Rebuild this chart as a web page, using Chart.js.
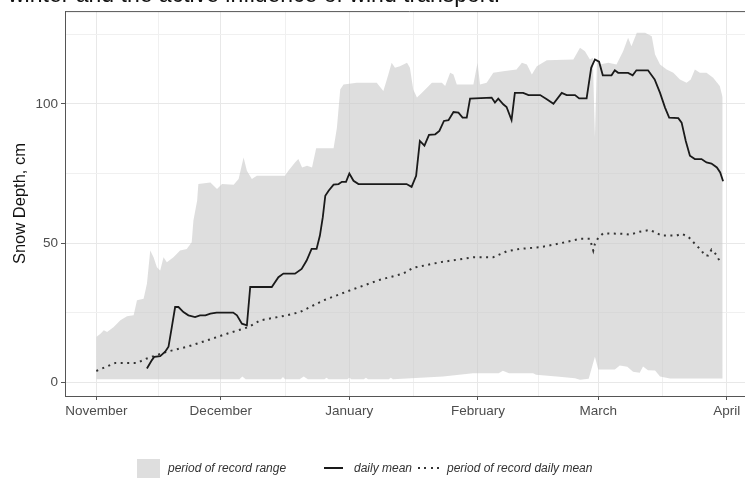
<!DOCTYPE html>
<html>
<head>
<meta charset="utf-8">
<script src="https://cdn.jsdelivr.net/npm/chart.js@4"></script>
<style>
  html, body { margin: 0; padding: 0; background: #fff; overflow: hidden; width: 745px; height: 488px; }
  #wrap { position: relative; width: 745px; height: 488px; overflow: hidden; }
  #chart { position: absolute; left: 0; top: 0; }
  #cut { position: absolute; left: 8px; top: -17px; font: 23px "Liberation Sans", Arial, sans-serif; line-height: 23px; color: #111; white-space: nowrap; }
  .lg { position: absolute; font: italic 12px "Liberation Sans", Arial, sans-serif; color: #333; white-space: nowrap; line-height: 14px; }
</style>
</head>
<body>
<div id="wrap">
  <canvas id="chart" width="754" height="488"></canvas>
  <div id="cut">winter and the active influence of wind transport.</div>
  <div style="position:absolute;left:137px;top:459px;width:23px;height:19px;background:#dedede"></div>
  <div class="lg" style="left:168px;top:461px">period of record range</div>
  <div style="position:absolute;left:324px;top:467px;width:19px;height:2px;background:#1a1a1a"></div>
  <div class="lg" style="left:354px;top:461px">daily mean</div>
  <div style="position:absolute;left:418px;top:467px;width:24px;height:2px;background:repeating-linear-gradient(90deg,#333 0 2px,transparent 2px 6.5px)"></div>
  <div class="lg" style="left:447px;top:461px">period of record daily mean</div>
</div>
<script>
// x values are days since November 1
const monthDays = [0, 30, 61, 92, 121, 152];
const monthLabels = ['November', 'December', 'January', 'February', 'March', 'April'];
const yTicks = [0, 25, 50, 75, 100, 125];
const yLabelled = [0, 50, 100];

// period of record range - top edge
const upperDays = [0, 1.0, 1.8, 2.6, 4.2, 5.8, 7.4, 9.0, 9.8, 11.4, 12.2, 13.0, 13.8, 14.6, 15.4, 16.2, 17.0, 18.6, 20.2, 21.8, 23.0, 23.4, 24.3, 24.6, 27.5, 29.1, 30.3, 33.1, 34.3, 35.5, 36.3, 37.5, 38.7, 45.5, 46.3, 47.9, 48.7, 49.6, 50.8, 52.0, 53.0, 57.2, 58.0, 58.8, 59.6, 62.8, 67.6, 69.2, 70.4, 71.2, 72.0, 73.2, 74.9, 75.6, 76.4, 77.3, 78.5, 80.9, 83.3, 84.1, 85.3, 86.1, 86.9, 90.9, 91.9, 92.5, 94.1, 95.7, 98.1, 101.3, 102.6, 103.8, 105.0, 106.2, 108.6, 115.0, 116.6, 117.8, 119.0, 119.7, 120.2, 120.7, 121.4, 123.4, 125.4, 127.0, 128.2, 129.0, 130.3, 132.3, 133.9, 134.7, 135.9, 137.5, 139.1, 140.7, 142.3, 143.3, 144.3, 145.5, 147.1, 148.7, 150.3, 151.0];
const upperValues = [16.2, 17.4, 18.6, 18.0, 19.8, 22.2, 23.7, 24.0, 29.4, 30.0, 35.4, 47.3, 44.9, 41.3, 40.1, 44.9, 43.1, 44.9, 47.3, 47.9, 50.3, 58.0, 65.2, 71.2, 71.8, 69.4, 71.2, 71.0, 73.0, 80.8, 76.0, 73.0, 74.2, 74.2, 76.0, 79.0, 80.2, 77.2, 77.8, 77.2, 84.1, 84.1, 91.5, 105.2, 107.0, 107.6, 107.6, 104.7, 110.6, 114.8, 113.0, 113.6, 114.8, 113.0, 105.2, 102.3, 104.0, 107.6, 107.6, 106.5, 111.2, 110.6, 107.0, 107.0, 114.8, 107.0, 107.6, 111.2, 111.8, 112.4, 114.8, 114.2, 110.6, 113.6, 115.7, 116.0, 120.2, 119.0, 116.0, 116.6, 88.0, 116.0, 114.2, 114.8, 114.2, 119.0, 123.8, 120.8, 125.6, 125.6, 124.4, 117.8, 114.2, 112.4, 111.2, 108.8, 107.6, 108.8, 112.4, 111.2, 111.2, 109.4, 106.5, 102.3];

// period of record range - bottom edge
const lowerDays = [0, 34.5, 35.2, 36.0, 44.5, 45.0, 45.5, 49.0, 50.0, 51.0, 55.0, 55.5, 56.0, 60.5, 61.0, 61.5, 64.5, 65.0, 65.5, 70.5, 71.0, 71.5, 83.6, 90.8, 97.0, 98.0, 99.5, 105.3, 106.0, 111.0, 115.4, 116.6, 118.7, 120.2, 121.0, 125.0, 126.2, 128.0, 129.4, 131.0, 131.8, 133.0, 134.7, 135.9, 138.3, 151.0];
const lowerValues = [1.0, 1.0, 2.0, 1.0, 1.0, 1.8, 1.0, 1.0, 2.0, 1.0, 1.0, 1.6, 1.0, 1.0, 1.6, 1.0, 1.0, 1.6, 1.0, 1.0, 1.6, 1.0, 2.0, 3.2, 3.2, 4.1, 3.2, 3.2, 2.6, 2.0, 1.4, 0.8, 1.2, 9.1, 4.5, 4.5, 6.0, 5.5, 3.7, 3.4, 5.6, 4.3, 4.2, 2.0, 1.3, 1.3];

// daily mean
const meanDays = [12.2, 13.4, 14.0, 15.4, 16.6, 17.4, 18.2, 19.0, 19.8, 21.0, 22.2, 23.8, 25.0, 26.3, 27.5, 29.0, 30.6, 33.0, 33.9, 35.1, 36.3, 37.1, 42.3, 43.9, 45.1, 47.9, 49.5, 50.7, 51.9, 53.1, 53.9, 54.6, 55.2, 56.0, 57.2, 58.4, 59.2, 60.2, 61.0, 62.0, 63.2, 74.8, 76.0, 77.1, 78.0, 79.1, 80.2, 81.7, 82.7, 83.8, 84.9, 86.1, 87.3, 88.3, 89.3, 90.1, 95.3, 96.1, 96.9, 98.1, 98.9, 100.1, 100.9, 102.9, 104.2, 107.0, 108.6, 110.2, 112.2, 113.4, 115.4, 116.4, 118.2, 119.3, 120.2, 121.2, 122.1, 124.2, 125.0, 125.8, 128.2, 129.3, 130.2, 133.0, 134.6, 135.9, 137.1, 138.1, 140.3, 141.1, 142.1, 143.1, 144.3, 145.9, 147.1, 148.3, 149.6, 150.4, 151.1];
const meanValues = [4.9, 7.9, 9.1, 9.3, 10.9, 12.7, 19.8, 27.0, 27.0, 25.2, 24.0, 23.4, 24.0, 24.0, 24.6, 25.0, 25.0, 25.0, 24.0, 21.0, 20.4, 34.2, 34.2, 37.7, 39.0, 39.0, 40.7, 43.7, 47.9, 47.9, 52.7, 59.3, 67.0, 68.8, 71.0, 71.2, 72.0, 72.0, 75.0, 72.4, 71.2, 71.2, 70.2, 74.2, 86.7, 85.0, 88.9, 89.1, 90.3, 93.9, 94.2, 97.1, 96.9, 95.1, 95.1, 101.9, 102.3, 100.5, 101.9, 99.9, 98.9, 94.2, 104.0, 104.0, 103.2, 103.2, 101.7, 100.1, 104.0, 103.2, 103.2, 102.0, 102.0, 113.0, 116.0, 115.2, 110.3, 110.3, 112.1, 111.2, 111.2, 110.3, 112.1, 112.1, 108.8, 104.0, 98.7, 95.1, 94.9, 93.3, 86.7, 81.4, 80.2, 80.2, 79.0, 78.6, 77.2, 75.4, 72.2];

// period of record daily mean
const porDays = [0, 4.6, 9.8, 12.2, 17.0, 21.9, 26.7, 31.5, 36.7, 39.5, 45.9, 49.1, 54.8, 61.2, 68.4, 74.0, 76.4, 82.9, 90.9, 95.7, 98.9, 102.1, 107.0, 111.8, 116.6, 119.0, 119.8, 120.2, 121.0, 122.2, 127.0, 128.6, 131.0, 133.5, 136.3, 139.9, 141.1, 142.7, 144.3, 145.9, 146.7, 147.5, 148.3, 149.4, 150.2];
const porValues = [4.0, 6.9, 6.9, 8.5, 10.9, 12.7, 15.0, 17.4, 19.8, 22.2, 24.0, 25.2, 29.4, 33.0, 36.8, 39.0, 41.1, 43.1, 44.9, 44.9, 47.0, 47.9, 48.5, 49.9, 51.5, 51.5, 47.3, 49.7, 51.9, 53.5, 53.3, 53.0, 54.1, 54.7, 52.7, 52.7, 53.3, 52.3, 49.7, 47.3, 45.5, 45.5, 47.6, 45.9, 43.7];

const pts = (xs, ys) => xs.map((x, i) => ({ x: x, y: ys[i] }));

const minorX = [];
for (let i = 0; i < monthDays.length - 1; i++) minorX.push((monthDays[i] + monthDays[i + 1]) / 2);

// panel border (top side, right is off-canvas)
const panelBorder = {
    id: 'panelBorder',
    afterDatasetsDraw(chart) {
        const a = chart.chartArea, ctx = chart.ctx;
        ctx.save();
        ctx.strokeStyle = '#555';
        ctx.lineWidth = 1;
        ctx.beginPath();
        ctx.moveTo(a.left, a.top + 0.5);
        ctx.lineTo(a.right, a.top + 0.5);
        ctx.stroke();
        ctx.restore();
    }
};

const chart = new Chart(document.getElementById('chart'), {
    type: 'line',
    data: {
        datasets: [{
            label: 'daily mean',
            data: pts(meanDays, meanValues),
            borderColor: '#1a1a1a',
            borderWidth: 1.8,
            pointRadius: 0,
            fill: false
        }, {
            label: 'period of record daily mean',
            data: pts(porDays, porValues),
            borderColor: '#333',
            borderWidth: 2,
            borderDash: [2, 4.5],
            pointRadius: 0,
            fill: false
        }, {
            label: 'period of record range',
            data: pts(upperDays, upperValues),
            borderWidth: 0,
            borderColor: 'rgba(0,0,0,0)',
            backgroundColor: 'rgba(200,200,200,0.6)',
            pointRadius: 0,
            fill: '+1'
        }, {
            label: 'range low',
            data: pts(lowerDays, lowerValues),
            borderWidth: 0,
            borderColor: 'rgba(0,0,0,0)',
            pointRadius: 0,
            fill: false
        }]
    },
    options: {
        responsive: false,
        animation: false,
        layout: { padding: { top: 10, bottom: 62, left: 0, right: 0 } },
        plugins: { legend: { display: false }, tooltip: { enabled: false } },
        elements: { line: { tension: 0 } },
        scales: {
            x: {
                type: 'linear',
                min: -7.55,
                max: 158.55,
                afterBuildTicks: s => { s.ticks = monthDays.concat(minorX).sort((a, b) => a - b).map(v => ({ value: v })); },
                afterFit: s => { s.height = 30; },
                grid: {
                    color: c => monthDays.includes(c.tick.value) ? '#e8e8e8' : '#f0f0f0',
                    tickColor: c => monthDays.includes(c.tick.value) ? '#555' : 'rgba(0,0,0,0)',
                    tickLength: 4
                },
                border: { display: true, color: '#555', width: 1 },
                ticks: {
                    autoSkip: false,
                    maxRotation: 0,
                    padding: 3,
                    color: '#4d4d4d',
                    font: { family: 'Liberation Sans', size: 13.5 },
                    callback: v => { const i = monthDays.indexOf(v); return i >= 0 ? monthLabels[i] : ''; }
                }
            },
            y: {
                type: 'linear',
                min: -5,
                max: 133.4,
                afterBuildTicks: s => { s.ticks = yTicks.map(v => ({ value: v })); },
                afterFit: s => { s.width = 65; },
                grid: {
                    color: c => yLabelled.includes(c.tick.value) ? '#e8e8e8' : '#f0f0f0',
                    tickColor: c => yLabelled.includes(c.tick.value) ? '#555' : 'rgba(0,0,0,0)',
                    tickLength: 4
                },
                border: { display: true, color: '#555', width: 1 },
                ticks: {
                    padding: 3,
                    color: '#4d4d4d',
                    font: { family: 'Liberation Sans', size: 13.5 },
                    callback: v => yLabelled.includes(v) ? String(v) : ''
                },
                title: {
                    display: true,
                    text: 'Snow Depth, cm',
                    color: '#111',
                    font: { family: 'Liberation Sans', size: 16.5 },
                    padding: { top: 11, bottom: 0 }
                }
            }
        }
    },
    plugins: [panelBorder]
});
</script>
</body>
</html>
